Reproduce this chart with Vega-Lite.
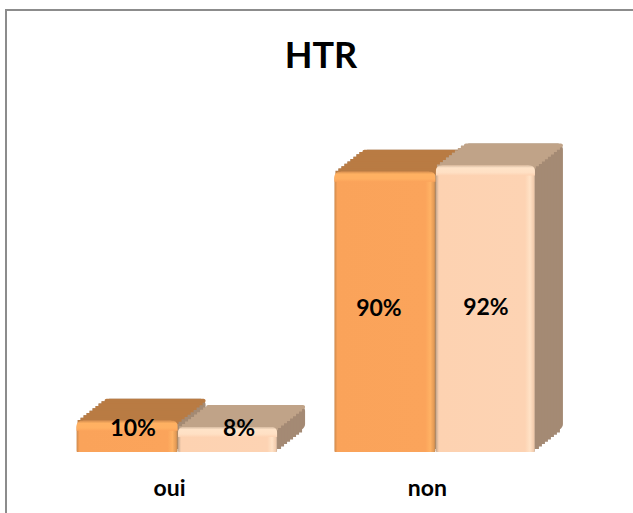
{"$schema":"https://vega.github.io/schema/vega-lite/v6.json","width":640,"height":510,"autosize":"none","padding":{"left":6,"top":10,"right":0,"bottom":0},"background":"white","config":{"view":{"stroke":"#8c8c8c","strokeWidth":2},"font":"Lato"},"title":{"text":"HTR","font":"Lato","fontSize":36,"fontWeight":"bold","color":"#000000","anchor":"middle","frame":"group","offset":-66,"dx":-5},"data":{"values":[{"reponse":"oui","serie":"A","valeur":10,"label":"10%"},{"reponse":"non","serie":"A","valeur":90,"label":"90%"},{"reponse":"oui","serie":"B","valeur":8,"label":"8%"},{"reponse":"non","serie":"B","valeur":92,"label":"92%"}]},"encoding":{"x":{"field":"reponse","type":"nominal","sort":["oui","non"],"title":null,"scale":{"range":[70,529],"paddingInner":0.22,"paddingOuter":0},"axis":{"domain":false,"ticks":false,"labelAngle":0,"labelFont":"Lato","labelFontWeight":"bold","labelFontSize":23,"labelColor":"#000000","labelOffset":-7,"labelPadding":0,"offset":-43}},"y":{"field":"valeur","type":"quantitative","title":null,"stack":null,"scale":{"domain":[0,100],"range":[442,130.5]},"axis":null}},"layer":[
{"transform":[{"filter":"datum.serie=='A'"}],"encoding":{"y2":{"datum":0}},"layer":[
{"mark":{"type":"bar","width":101,"color":"#a48a74","xOffset":-21.5,"yOffset":-22,"y2Offset":-22,"cornerRadius":6}},
{"mark":{"type":"bar","width":101,"color":"#a48a74","xOffset":-24.5,"yOffset":-19.6,"y2Offset":-19.6}},
{"mark":{"type":"bar","width":101,"color":"#a48a74","xOffset":-27.5,"yOffset":-17.3,"y2Offset":-17.3}},
{"mark":{"type":"bar","width":101,"color":"#a48a74","xOffset":-30.5,"yOffset":-14.9,"y2Offset":-14.9}},
{"mark":{"type":"bar","width":101,"color":"#a48a74","xOffset":-33.5,"yOffset":-12.6,"y2Offset":-12.6}},
{"mark":{"type":"bar","width":101,"color":"#a48a74","xOffset":-36.5,"yOffset":-10.2,"y2Offset":-10.2}},
{"mark":{"type":"bar","width":101,"color":"#a48a74","xOffset":-39.5,"yOffset":-7.9,"y2Offset":-7.9}},
{"mark":{"type":"bar","width":101,"color":"#a48a74","xOffset":-42.5,"yOffset":-5.5,"y2Offset":-5.5}},
{"mark":{"type":"bar","width":101,"color":"#a48a74","xOffset":-45.5,"yOffset":-3.1,"y2Offset":-3.1}}]},
{"transform":[{"filter":"datum.serie=='A'"}],"encoding":{"y2":{"field":"valeur"}},"layer":[
{"mark":{"type":"bar","width":101,"color":"#b97b43","xOffset":-21.5,"yOffset":-22,"y2Offset":-18,"cornerRadius":2}},
{"mark":{"type":"bar","width":101,"color":"#b97b43","xOffset":-24.5,"yOffset":-19.6,"y2Offset":-15.6}},
{"mark":{"type":"bar","width":101,"color":"#b97b43","xOffset":-27.5,"yOffset":-17.3,"y2Offset":-13.3}},
{"mark":{"type":"bar","width":101,"color":"#b97b43","xOffset":-30.5,"yOffset":-14.9,"y2Offset":-10.9}},
{"mark":{"type":"bar","width":101,"color":"#b97b43","xOffset":-33.5,"yOffset":-12.6,"y2Offset":-8.6}},
{"mark":{"type":"bar","width":101,"color":"#b97b43","xOffset":-36.5,"yOffset":-10.2,"y2Offset":-6.2}},
{"mark":{"type":"bar","width":101,"color":"#b97b43","xOffset":-39.5,"yOffset":-7.9,"y2Offset":-3.9}},
{"mark":{"type":"bar","width":101,"color":"#b97b43","xOffset":-42.5,"yOffset":-5.5,"y2Offset":-1.5}},
{"mark":{"type":"bar","width":101,"color":"#b97b43","xOffset":-45.5,"yOffset":-3.1,"y2Offset":0.9}},
{"mark":{"type":"bar","width":101,"color":"#b97b43","xOffset":-48.5,"yOffset":-0.8,"y2Offset":3.2}}]},
{"transform":[{"filter":"datum.serie=='A'"}],"encoding":{"y2":{"datum":0}},"mark":{"type":"bar","width":101,"xOffset":-49.5,"cornerRadiusTopLeft":7,"cornerRadiusTopRight":7,"cornerRadiusBottomLeft":1,"cornerRadiusBottomRight":1,"color":{"x1":0,"x2":1,"y1":0,"y2":0,"gradient":"linear","stops":[{"offset":0,"color":"#cf8a4d"},{"offset":0.03,"color":"#faa35a"},{"offset":0.9,"color":"#fba45b"},{"offset":0.95,"color":"#ffb264"},{"offset":0.985,"color":"#e39a55"},{"offset":1,"color":"#b98550"}]}}},
{"transform":[{"filter":"datum.serie=='A'"}],"encoding":{"y2":{"field":"valeur"}},"mark":{"type":"bar","width":101,"xOffset":-49.5,"y2Offset":10,"cornerRadiusTopLeft":7,"cornerRadiusTopRight":7,"color":{"x1":0,"x2":0,"y1":0,"y2":1,"gradient":"linear","stops":[{"offset":0,"color":"#d99150"},{"offset":0.25,"color":"#ffb162"},{"offset":0.7,"color":"#ffb062"},{"offset":1,"color":"#fba45b"}]}}},
{"transform":[{"filter":"datum.serie=='B'"}],"encoding":{"y2":{"datum":0}},"layer":[
{"mark":{"type":"bar","width":99,"color":"#a48a74","xOffset":79,"yOffset":-22,"y2Offset":-22,"cornerRadius":6}},
{"mark":{"type":"bar","width":99,"color":"#a48a74","xOffset":76,"yOffset":-19.6,"y2Offset":-19.6}},
{"mark":{"type":"bar","width":99,"color":"#a48a74","xOffset":73,"yOffset":-17.3,"y2Offset":-17.3}},
{"mark":{"type":"bar","width":99,"color":"#a48a74","xOffset":70,"yOffset":-14.9,"y2Offset":-14.9}},
{"mark":{"type":"bar","width":99,"color":"#a48a74","xOffset":67,"yOffset":-12.6,"y2Offset":-12.6}},
{"mark":{"type":"bar","width":99,"color":"#a48a74","xOffset":64,"yOffset":-10.2,"y2Offset":-10.2}},
{"mark":{"type":"bar","width":99,"color":"#a48a74","xOffset":61,"yOffset":-7.9,"y2Offset":-7.9}},
{"mark":{"type":"bar","width":99,"color":"#a48a74","xOffset":58,"yOffset":-5.5,"y2Offset":-5.5}},
{"mark":{"type":"bar","width":99,"color":"#a48a74","xOffset":55,"yOffset":-3.1,"y2Offset":-3.1}}]},
{"transform":[{"filter":"datum.serie=='B'"}],"encoding":{"y2":{"field":"valeur"}},"layer":[
{"mark":{"type":"bar","width":99,"color":"#c0a388","xOffset":79,"yOffset":-22,"y2Offset":-18,"cornerRadius":2}},
{"mark":{"type":"bar","width":99,"color":"#c0a388","xOffset":76,"yOffset":-19.6,"y2Offset":-15.6}},
{"mark":{"type":"bar","width":99,"color":"#c0a388","xOffset":73,"yOffset":-17.3,"y2Offset":-13.3}},
{"mark":{"type":"bar","width":99,"color":"#c0a388","xOffset":70,"yOffset":-14.9,"y2Offset":-10.9}},
{"mark":{"type":"bar","width":99,"color":"#c0a388","xOffset":67,"yOffset":-12.6,"y2Offset":-8.6}},
{"mark":{"type":"bar","width":99,"color":"#c0a388","xOffset":64,"yOffset":-10.2,"y2Offset":-6.2}},
{"mark":{"type":"bar","width":99,"color":"#c0a388","xOffset":61,"yOffset":-7.9,"y2Offset":-3.9}},
{"mark":{"type":"bar","width":99,"color":"#c0a388","xOffset":58,"yOffset":-5.5,"y2Offset":-1.5}},
{"mark":{"type":"bar","width":99,"color":"#c0a388","xOffset":55,"yOffset":-3.1,"y2Offset":0.9}},
{"mark":{"type":"bar","width":99,"color":"#c0a388","xOffset":52,"yOffset":-0.8,"y2Offset":3.2}}]},
{"transform":[{"filter":"datum.serie=='B'"}],"encoding":{"y2":{"datum":0}},"mark":{"type":"bar","width":99,"xOffset":51,"cornerRadiusTopLeft":7,"cornerRadiusTopRight":7,"cornerRadiusBottomLeft":1,"cornerRadiusBottomRight":1,"color":{"x1":0,"x2":1,"y1":0,"y2":0,"gradient":"linear","stops":[{"offset":0,"color":"#c4a78e"},{"offset":0.03,"color":"#fdd2b1"},{"offset":0.9,"color":"#fdd3b3"},{"offset":0.95,"color":"#ffe2c6"},{"offset":0.985,"color":"#f3cdaf"},{"offset":1,"color":"#c9ad95"}]}}},
{"transform":[{"filter":"datum.serie=='B'"}],"encoding":{"y2":{"field":"valeur"}},"mark":{"type":"bar","width":99,"xOffset":51,"y2Offset":10,"cornerRadiusTopLeft":7,"cornerRadiusTopRight":7,"color":{"x1":0,"x2":0,"y1":0,"y2":1,"gradient":"linear","stops":[{"offset":0,"color":"#d9bda3"},{"offset":0.25,"color":"#ffe3c8"},{"offset":0.7,"color":"#ffe0c4"},{"offset":1,"color":"#fdd3b3"}]}}},
{"transform":[{"filter":"datum.reponse=='oui' && datum.serie=='A'"}],"mark":{"type":"text","font":"Lato","fontWeight":"bold","fontSize":23,"color":"#000000","dx":-43.5,"dy":8},"encoding":{"text":{"field":"label"}}},
{"transform":[{"filter":"datum.reponse=='oui' && datum.serie=='B'"}],"mark":{"type":"text","font":"Lato","fontWeight":"bold","fontSize":23,"color":"#000000","dx":62.5,"dy":2},"encoding":{"text":{"field":"label"}}},
{"transform":[{"filter":"datum.reponse=='non' && datum.serie=='A'"}],"mark":{"type":"text","font":"Lato","fontWeight":"bold","fontSize":23,"color":"#000000","dx":-55.5,"dy":137.5},"encoding":{"text":{"field":"label"}}},
{"transform":[{"filter":"datum.reponse=='non' && datum.serie=='B'"}],"mark":{"type":"text","font":"Lato","fontWeight":"bold","fontSize":23,"color":"#000000","dx":51.5,"dy":142.5},"encoding":{"text":{"field":"label"}}}
]}
